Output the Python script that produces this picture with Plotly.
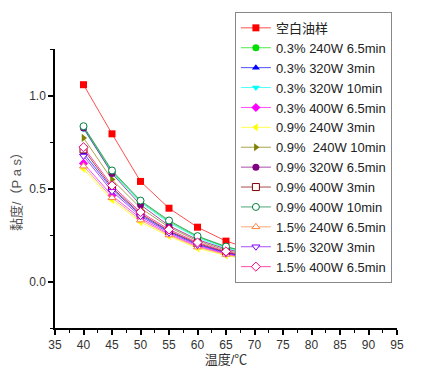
import plotly.graph_objects as go

temps = [40, 45, 50, 55, 60, 65, 70, 75, 80, 85, 90]

names = ["空白油样", "0.3% 240W 6.5min", "0.3% 320W 3min", "0.3% 320W 10min",
         "0.3% 400W 6.5min", "0.9% 240W 3min", "0.9%\u00a0 240W 10min",
         "0.9% 320W 6.5min", "0.9% 400W 3min", "0.9% 400W 10min",
         "1.5% 240W 6.5min", "1.5% 320W 3min", "1.5% 400W 6.5min"]

blank = [1.058, 0.794, 0.538, 0.394, 0.292, 0.217, 0.170, 0.125, 0.098, 0.072, 0.065]
s03_240_65 = [0.830, 0.590, 0.430, 0.322, 0.240, 0.185, 0.146, 0.115, 0.092, 0.071, 0.065]
s03_320_3 = [0.690, 0.498, 0.358, 0.268, 0.200, 0.155, 0.122, 0.098, 0.079, 0.064, 0.060]
s03_320_10 = [0.820, 0.585, 0.425, 0.315, 0.235, 0.180, 0.142, 0.112, 0.090, 0.070, 0.064]
s03_400_65 = [0.635, 0.462, 0.340, 0.255, 0.190, 0.148, 0.117, 0.094, 0.076, 0.062, 0.058]
s09_240_3 = [0.605, 0.438, 0.319, 0.244, 0.178, 0.140, 0.110, 0.089, 0.072, 0.060, 0.056]
s09_240_10 = [0.772, 0.548, 0.395, 0.292, 0.218, 0.168, 0.132, 0.106, 0.085, 0.067, 0.062]
s09_320_65 = [0.825, 0.580, 0.412, 0.300, 0.225, 0.175, 0.138, 0.110, 0.088, 0.068, 0.063]
s09_400_3 = [0.710, 0.505, 0.365, 0.272, 0.205, 0.158, 0.125, 0.100, 0.080, 0.065, 0.060]
s09_400_10 = [0.835, 0.597, 0.435, 0.328, 0.244, 0.188, 0.149, 0.118, 0.094, 0.072, 0.066]
s15_240_65 = [0.620, 0.450, 0.330, 0.250, 0.185, 0.145, 0.114, 0.092, 0.074, 0.061, 0.057]
s15_320_3 = [0.675, 0.485, 0.350, 0.262, 0.196, 0.152, 0.120, 0.096, 0.078, 0.063, 0.059]
s15_400_65 = [0.722, 0.516, 0.373, 0.280, 0.210, 0.162, 0.128, 0.102, 0.082, 0.066, 0.061]

series = [blank, s03_240_65, s03_320_3, s03_320_10, s03_400_65, s09_240_3, s09_240_10,
          s09_320_65, s09_400_3, s09_400_10, s15_240_65, s15_320_3, s15_400_65]

colors = ["#FF0000", "#00E000", "#0000FF", "#00FFFF", "#FF00FF", "#FFFF00", "#808000",
          "#800080", "#800000", "#008040", "#FF8040", "#8000FF", "#FF0080"]
symbols = ["square", "circle", "triangle-up", "triangle-down", "diamond", "triangle-left",
           "triangle-right", "circle", "square", "circle", "triangle-up", "triangle-down", "diamond"]
opens = [False] * 8 + [True] * 5

fig = go.Figure()
for n, ys, c, s, o in zip(names, series, colors, symbols, opens):
    fig.add_trace(go.Scatter(
        x=temps, y=ys, name=n, mode="lines+markers",
        line=dict(color=c, width=0.7),
        marker=dict(symbol=s, size=7, color="white" if o else c,
                    line=dict(color=c, width=1 if o else 0)),
    ))

font = "Liberation Sans, Arial, Noto Sans CJK SC, sans-serif"
fig.update_layout(
    width=416, height=368,
    margin=dict(l=47, r=27, t=41, b=48, autoexpand=False),
    paper_bgcolor="white", plot_bgcolor="white",
    font=dict(family=font, size=12, color="#333333"),
    showlegend=True,
    legend=dict(x=0.526, y=1.133, xanchor="left", yanchor="top",
                bordercolor="#888888", borderwidth=1, bgcolor="white",
                font=dict(size=13, color="#222222"), tracegroupgap=0,
                itemwidth=30, maxheight=300),
    xaxis=dict(range=[35, 95], tickvals=[35, 40, 45, 50, 55, 60, 65, 70, 75, 80, 85, 90, 95],
               showgrid=False, zeroline=False, showline=True, linecolor="black", linewidth=1.5,
               ticks="outside", ticklen=5, tickcolor="black", tickwidth=1.5, automargin=False,
               minor=dict(dtick=2.5, ticks="outside", ticklen=3, tickcolor="black", tickwidth=1),
               title=dict(text="温度/℃", font=dict(size=13), standoff=0),
               tickfont=dict(size=12)),
    yaxis=dict(range=[-0.25, 1.25], tickvals=[0.0, 0.5, 1.0], ticktext=["0.0", "0.5", "1.0"],
               showgrid=False, zeroline=False, showline=True, linecolor="black", linewidth=1.5,
               ticks="outside", ticklen=5, tickcolor="black", tickwidth=1.5, automargin=False,
               minor=dict(dtick=0.25, ticks="outside", ticklen=3, tickcolor="black", tickwidth=1),
               title=dict(text="黏度/（P a s）", font=dict(size=13, color="#555555"), standoff=5),
               tickfont=dict(size=12)),
)
fig.write_html("out.html")
